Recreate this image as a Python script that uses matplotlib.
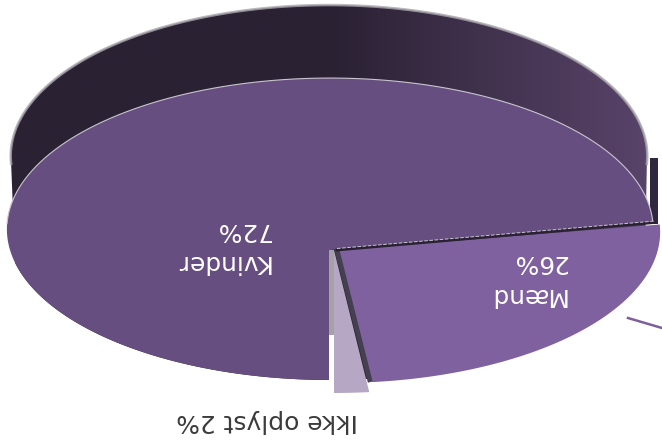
import matplotlib
matplotlib.use('Agg')
import matplotlib.pyplot as plt
import numpy as np
from matplotlib.patches import Polygon

# the picture is an upside down 3D pie
labels = ['Kvinder', 'Mænd', 'Ikke oplyst']
shares = [72, 26, 2]

colors = ['#664f80', '#7f619f', '#b6a8c4']
wall_left = '#2a2133'
wall_right = '#5b456c'

# perspective of the disc, pixels
cx, cy = 330, 250
rx = 320
a, c = -182.8, -0.139
start = -90.0


def project(deg, dx=0, dy=0, sx=1.0):
    t = np.radians(deg)
    u, v = np.cos(t), np.sin(t)
    w = 1 + c * v
    return cx + dx + sx * rx * u / w, (cy + a * v) / w + dy


def arc(d0, d1, dx=0, dy=0, sx=1.0):
    x, y = project(np.linspace(d0, d1, 200), dx, dy, sx)
    return np.column_stack([x, y])


fig = plt.figure(figsize=(6.62, 4.41), dpi=100)
ax = fig.add_axes([0, 0, 1, 1])
ax.axis('off')

# angles go clockwise from the bottom
sweep = np.cumsum(shares) / np.sum(shares) * 360
a1 = start - sweep[0]
a2 = start - sweep[1]
a3 = start - sweep[2]

# back wall with gradient
wall_pts = arc(-185, -355, dx=-1, dy=-73, sx=0.985)
wall_pts = np.vstack([wall_pts, arc(-5, -175)])
grad = np.linspace(0, 1, 256).reshape(1, -1)
cmap = matplotlib.colors.LinearSegmentedColormap.from_list('wall', [wall_left, wall_left, wall_right])
im = ax.imshow(grad, extent=[0, 662, 441, 0], aspect='auto', cmap=cmap, zorder=1)
wall = Polygon(wall_pts, closed=True, fc='none', ec='none', transform=ax.transData)
ax.add_patch(wall)
im.set_clip_path(wall)
edge = arc(-185, -355, dx=-1, dy=-73, sx=0.985)
ax.plot(edge[:, 0], edge[:, 1], color='#a9a6ad', lw=1.8, alpha=0.8, zorder=2)

# cut wall of the big slice, right side
end_x, end_y = project(a1)
ax.fill_between([end_x - 3, end_x + 5], 158, end_y + 2, color='#2f2640', lw=0, zorder=2)

# Kvinder
pts = np.vstack([[cx, cy], arc(start, a1)])
ax.add_patch(Polygon(pts, closed=True, fc=colors[0], ec='none', zorder=3))
rim = arc(a1, -190)
ax.plot(rim[:, 0], rim[:, 1], color='#c9c4cf', lw=0.8, zorder=4)

# Ikke oplyst
pts = np.vstack([[cx + 4, cy], arc(a2, a3, dx=4, dy=13)])
ax.add_patch(Polygon(pts, closed=True, fc=colors[2], ec='none', zorder=3))
ax.fill_between([cx - 1, cx + 4], cy, 335, color='#a5a1a8', lw=0, zorder=4)
ax.fill_between([cx - 1, cx + 4], 335, 381, color='white', lw=0, zorder=4)

# Mænd
mx, my = 7, 3
pts = np.vstack([[cx + mx, cy], arc(a1, a2, mx, my)])
ax.add_patch(Polygon(pts, closed=True, fc=colors[1], ec='none', zorder=5))
p = project(a2, mx, my)
ax.plot([cx + mx, p[0] - 2], [cy, p[1]], color='#45404f', lw=3.5, solid_capstyle='butt', zorder=6)
p = project(a1, mx, my)
ax.plot([cx + mx, p[0] - 5], [cy, p[1] - 2], color='#2a2133', lw=2, zorder=6)
ax.plot([cx + mx, p[0] - 5], [cy - 1.5, p[1] - 3.5], color='#c9c4cf', lw=0.7, ls='--', zorder=6)

# leader line cut by the edge
ax.plot([628, 662], [318, 328], color='#7d5f9c', lw=1.8, zorder=3)

# texts, all turned 180 degrees
fs = 17.9
ax.text(270, 262, labels[0], rotation=180, ha='right', va='center', color='white', fontsize=fs, zorder=8)
ax.text(270, 230, '%d%%' % shares[0], rotation=180, ha='right', va='center', color='white', fontsize=fs, zorder=8)
ax.text(566, 295, labels[1], rotation=180, ha='right', va='center', color='white', fontsize=fs, zorder=8)
ax.text(567, 262, '%d%%' % shares[1], rotation=180, ha='right', va='center', color='white', fontsize=fs, zorder=8)
ax.text(358, 421, '%s %d%%' % (labels[2], shares[2]), rotation=180, ha='right', va='center', color='#3a3a3a', fontsize=fs, zorder=8)

ax.set_xlim(0, 662)
ax.set_ylim(441, 0)
fig.savefig('out.png', dpi=100)
